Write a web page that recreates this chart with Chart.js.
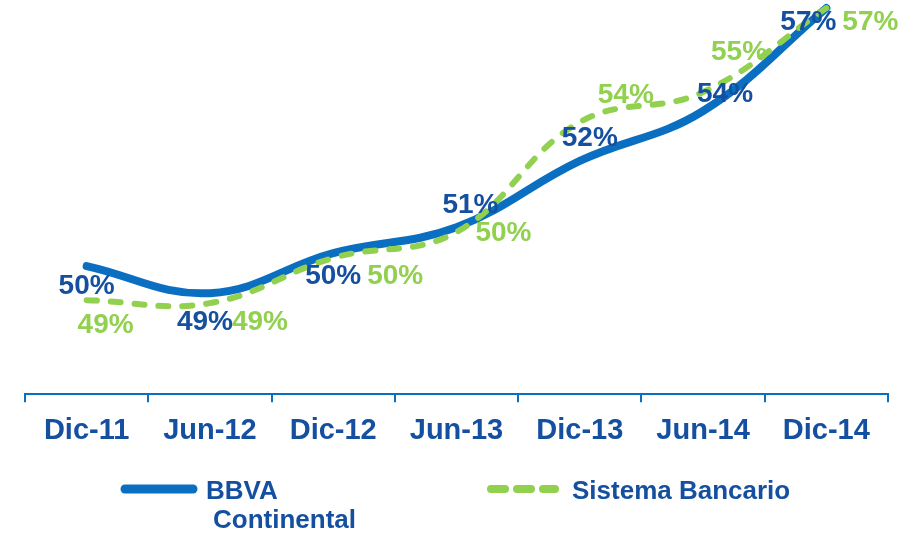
<!DOCTYPE html>
<html>
<head>
<meta charset="utf-8">
<script src="https://cdn.jsdelivr.net/npm/chart.js@4.4.1/dist/chart.umd.min.js"></script>
<style>
  html, body { margin: 0; padding: 0; background: #fff; }
  #wrap { width: 920px; height: 535px; }
</style>
</head>
<body>
<div id="wrap"><canvas id="chart" width="920" height="535"></canvas></div>
<script>
/* Participación BBVA Continental vs Sistema Bancario */

const categories = ["Dic-11", "Jun-12", "Dic-12", "Jun-13", "Dic-13", "Jun-14", "Dic-14"];
const bbvaValues = [49.92, 49.19, 50.27, 50.97, 52.76, 54.11, 56.89];
const sistemaValues = [49.0, 48.92, 50.14, 50.84, 53.81, 54.62, 56.89];
// labels as printed on the chart (rounded)
const bbvaLabels = [50, 49, 50, 51, 52, 54, 57];
const sistemaLabels = [49, 49, 50, 50, 54, 55, 57];

// where each label sits relative to its point (px)
const bbvaLabelOffsets = [[0, 20], [-5, 29], [0, 23], [14, -22], [10, -23], [22, -17], [-18, 14]];
const sistemaLabelOffsets = [[19, 25], [50, 19], [62, 18], [47, 1], [46, -27], [36, -40], [44, 14]];

const FONT = '"Liberation Sans", Arial, sans-serif';
const BLUE_LINE = "#0A6FC0";
const BLUE_TEXT = "#1550A0";
const GREEN = "#92D050";

const labelPlugin = {
  id: "pointLabels",
  afterDatasetsDraw(chart) {
    const ctx = chart.ctx;
    ctx.save();
    ctx.font = `bold 28px ${FONT}`;
    ctx.textAlign = "center";
    ctx.textBaseline = "middle";
    chart.data.datasets.forEach((ds, i) => {
      const meta = chart.getDatasetMeta(i);
      meta.data.forEach((pt, j) => {
        const [dx, dy] = ds.labelOffsets[j];
        ctx.fillStyle = ds.labelColor;
        ctx.fillText(ds.printed[j] + "%", pt.x + dx, pt.y + dy);
      });
    });
    ctx.restore();
  },
};

const legendPlugin = {
  id: "customLegend",
  afterDraw(chart) {
    const ctx = chart.ctx;
    ctx.save();
    ctx.lineCap = "round";
    // BBVA sample
    ctx.strokeStyle = BLUE_LINE;
    ctx.lineWidth = 9;
    ctx.beginPath();
    ctx.moveTo(125, 489);
    ctx.lineTo(193, 489);
    ctx.stroke();
    // Sistema sample
    ctx.strokeStyle = GREEN;
    ctx.lineWidth = 8;
    ctx.setLineDash([14, 12]);
    ctx.beginPath();
    ctx.moveTo(491, 489);
    ctx.lineTo(555, 489);
    ctx.stroke();
    ctx.setLineDash([]);

    ctx.fillStyle = BLUE_TEXT;
    ctx.font = `bold 26px ${FONT}`;
    ctx.textAlign = "left";
    ctx.textBaseline = "middle";
    ctx.fillText("BBVA", 206, 492);
    ctx.fillText("Continental", 213, 521);
    ctx.fillText("Sistema Bancario", 572, 492);
    ctx.restore();
  },
};

new Chart(document.getElementById("chart"), {
  type: "line",
  data: {
    labels: categories,
    datasets: [
      {
        label: "Sistema Bancario",
        data: sistemaValues,
        printed: sistemaLabels,
        labelOffsets: sistemaLabelOffsets,
        labelColor: GREEN,
        borderColor: GREEN,
        borderWidth: 6,
        borderDash: [10, 14],
        borderCapStyle: "round",
        pointRadius: 0,
        tension: 0.4,
        clip: false,
        order: 1,
      },
      {
        label: "BBVA Continental",
        data: bbvaValues,
        printed: bbvaLabels,
        labelOffsets: bbvaLabelOffsets,
        labelColor: BLUE_TEXT,
        borderColor: BLUE_LINE,
        borderWidth: 8,
        borderCapStyle: "round",
        pointRadius: 0,
        tension: 0.4,
        clip: false,
        order: 2,
      },
    ],
  },
  options: {
    responsive: false,
    animation: false,
    layout: { padding: { left: 25, right: 32, top: 4, bottom: 76 } },
    plugins: { legend: { display: false }, tooltip: { enabled: false } },
    scales: {
      x: {
        offset: true,
        grid: { offset: true, drawOnChartArea: false, tickLength: 8, color: BLUE_LINE, lineWidth: 2 },
        border: { color: BLUE_LINE, width: 2 },
        ticks: { color: BLUE_TEXT, font: { family: FONT, size: 29, weight: "bold" }, padding: 11 },
      },
      y: { display: false, min: 46.46, max: 57 },
    },
  },
  plugins: [labelPlugin, legendPlugin],
});
</script>
</body>
</html>
